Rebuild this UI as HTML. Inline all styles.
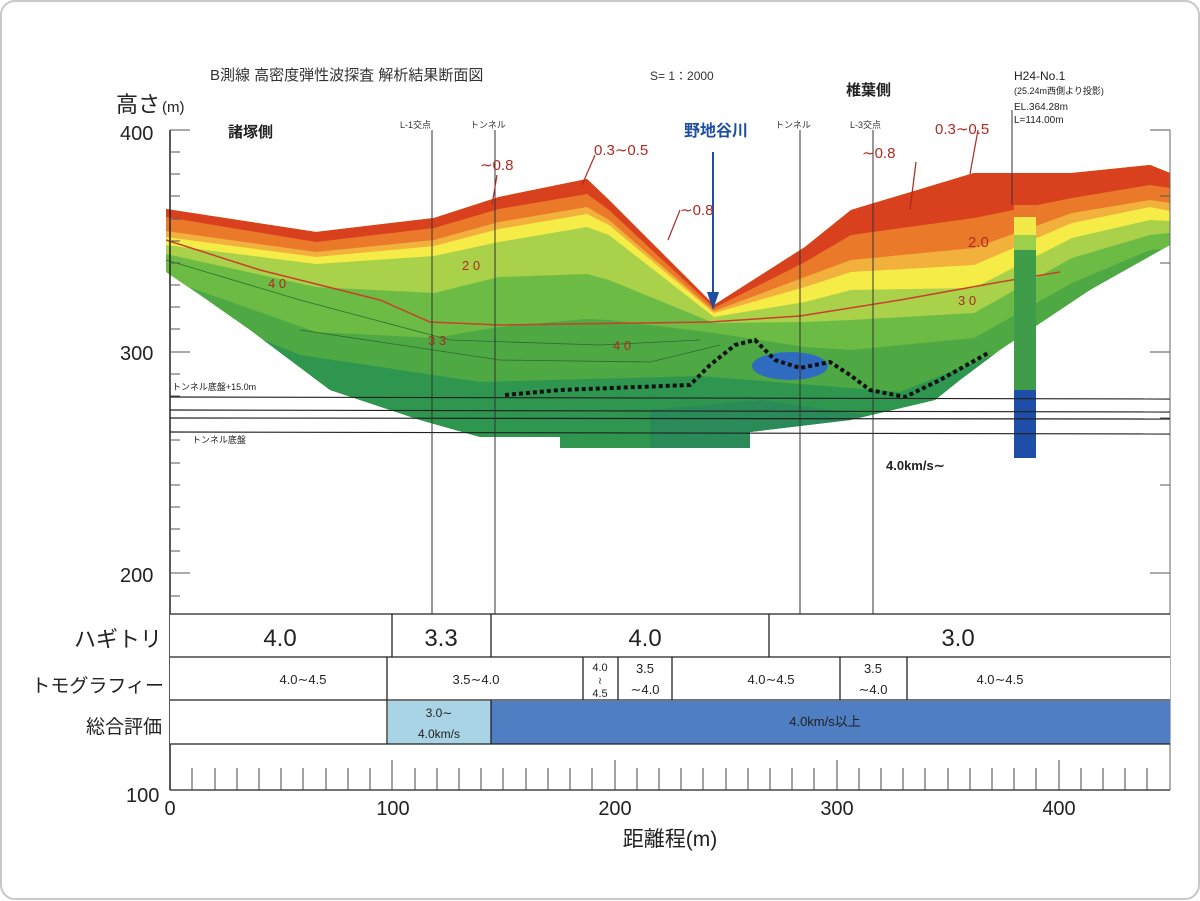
<!DOCTYPE html>
<html><head><meta charset="utf-8"><style>
html,body{margin:0;padding:0;background:#fff;}
svg{display:block;}
text{font-family:"Liberation Sans","Noto Sans CJK JP",sans-serif;}
</style></head><body>
<svg width="1200" height="901" viewBox="0 0 1200 901" xmlns="http://www.w3.org/2000/svg">
<rect x="1" y="1" width="1198" height="898" rx="14" fill="#fff" stroke="#c8c8c8" stroke-width="2"/>
<defs>
<clipPath id="sec"><polygon points="166,209 316,232 434,218 499,197 587,179 609,200 714,305 805,247 851,210 974,173 1072,173 1150,165 1170,173 1170,245 1090,290 1000,350 960,380 935,400 850,420 750,432 750,448 560,448 560,437 480,437 420,420 330,390 250,330 200,295 166,272"/></clipPath>
</defs>
<g clip-path="url(#sec)">
<rect x="160" y="150" width="1020" height="310" fill="#4ea843"/>
<polygon points="166,300 300,355 480,382 700,376 900,392 1000,352 1170,300 1170,460 166,460" fill="#2f9650"/>
<polygon points="650,410 760,400 900,420 900,460 650,460" fill="#2a8a58"/>
<polygon points="166,0 1170,0 1170,248 1150,250 1072,283 974,338 851,350 805,347 714,333 609,320 587,319 499,327 434,338 316,332 166,279" fill="#6cbb45"/>
<polygon points="166,0 1170,0 1170,233 1150,235 1072,258 974,313 851,320 805,322 714,323 609,280 587,274 499,277 434,293 316,287 166,254" fill="#a9d14a"/>
<polygon points="166,0 1170,0 1170,221 1150,220 1072,238 974,288 851,290 805,302 714,317 609,235 587,227 499,242 434,256 316,264 166,245" fill="#f5ec48"/>
<polygon points="166,0 1170,0 1170,211 1150,207 1072,223 974,265 851,272 805,287 714,313 609,225 587,214 499,229 434,246 316,257 166,237" fill="#f2b03c"/>
<polygon points="166,0 1170,0 1170,203 1150,200 1072,213 974,248 851,260 805,277 714,311 609,220 587,207 499,222 434,240 316,252 166,231" fill="#ea7a2a"/>
<polygon points="166,0 1170,0 1170,188 1150,185 1072,198 974,218 851,235 805,262 714,308 609,210 587,194 499,209 434,228 316,242 166,217" fill="#d8401e"/>
<ellipse cx="790" cy="366" rx="38" ry="14" fill="#2f6cc0"/>
<polyline points="166,240 260,270 380,300 430,322 500,325 710,322 800,316 900,300 1000,282 1060,272" fill="none" stroke="#c8402a" stroke-width="1.5"/>
<polyline points="166,260 300,300 450,340 600,345 700,340" fill="none" stroke="#2c6a30" stroke-width="0.8"/>
<polyline points="300,330 500,360 650,362 720,345" fill="none" stroke="#2c6a30" stroke-width="0.8"/>
</g>
<polyline points="505,395 560,390 690,385 710,365 735,345 755,340 775,360 800,368 830,362 850,375 870,390 905,397 940,380 990,352" fill="none" stroke="#111" stroke-width="4" stroke-dasharray="4,3"/>
<rect x="1014" y="205" width="22" height="12" fill="#e8782a"/>
<rect x="1014" y="217" width="22" height="18" fill="#f1ea4a"/>
<rect x="1014" y="235" width="22" height="15" fill="#9cd04a"/>
<rect x="1014" y="250" width="22" height="140" fill="#3f9c48"/>
<rect x="1014" y="390" width="22" height="68" fill="#1f4ea8"/>
<line x1="170" y1="130" x2="170" y2="790" stroke="#222" stroke-width="1.5"/>
<line x1="1170" y1="130" x2="1170" y2="790" stroke="#666" stroke-width="1"/>
<g stroke="#555" stroke-width="1">
<line x1="170" y1="130" x2="190" y2="130"/><line x1="170" y1="352" x2="190" y2="352"/><line x1="170" y1="573" x2="190" y2="573"/>
<line x1="170" y1="152" x2="180" y2="152"/><line x1="170" y1="174" x2="180" y2="174"/><line x1="170" y1="196" x2="180" y2="196"/><line x1="170" y1="219" x2="180" y2="219"/><line x1="170" y1="241" x2="180" y2="241"/><line x1="170" y1="263" x2="180" y2="263"/><line x1="170" y1="285" x2="180" y2="285"/><line x1="170" y1="307" x2="180" y2="307"/><line x1="170" y1="329" x2="180" y2="329"/>
<line x1="170" y1="374" x2="180" y2="374"/><line x1="170" y1="396" x2="180" y2="396"/><line x1="170" y1="418" x2="180" y2="418"/><line x1="170" y1="440" x2="180" y2="440"/><line x1="170" y1="463" x2="180" y2="463"/><line x1="170" y1="485" x2="180" y2="485"/><line x1="170" y1="507" x2="180" y2="507"/><line x1="170" y1="529" x2="180" y2="529"/><line x1="170" y1="551" x2="180" y2="551"/><line x1="170" y1="596" x2="180" y2="596"/>
<line x1="1150" y1="130" x2="1170" y2="130"/><line x1="1150" y1="352" x2="1170" y2="352"/><line x1="1150" y1="573" x2="1170" y2="573"/><line x1="1160" y1="196" x2="1170" y2="196"/><line x1="1160" y1="263" x2="1170" y2="263"/><line x1="1160" y1="418" x2="1170" y2="418"/><line x1="1160" y1="485" x2="1170" y2="485"/>
</g>
<g stroke="#222" stroke-width="1.2">
<line x1="170" y1="397" x2="1170" y2="399"/><line x1="170" y1="410" x2="1170" y2="412"/><line x1="170" y1="418" x2="1170" y2="419"/><line x1="170" y1="432" x2="1170" y2="434"/>
</g>
<g stroke="#333" stroke-width="1">
<line x1="432" y1="130" x2="432" y2="614"/><line x1="495" y1="130" x2="495" y2="614"/><line x1="800" y1="130" x2="800" y2="614"/><line x1="873" y1="130" x2="873" y2="614"/><line x1="1012" y1="110" x2="1012" y2="205"/>
</g>
<line x1="713" y1="152" x2="713" y2="305" stroke="#1d4ea0" stroke-width="2"/>
<polygon points="707,292 719,292 713,310" fill="#1d4ea0"/>
<g stroke="#b02a20" stroke-width="1.2" fill="none">
<line x1="497" y1="175" x2="492" y2="205"/><line x1="595" y1="155" x2="582" y2="185"/><line x1="680" y1="210" x2="668" y2="240"/><line x1="916" y1="162" x2="910" y2="210"/><line x1="978" y1="130" x2="970" y2="174"/>
</g>
<text x="210" y="80" font-size="15" fill="#333">B測線 高密度弾性波探査 解析結果断面図</text>
<text x="650" y="80" font-size="12" fill="#333">S= 1：2000</text>
<text x="116" y="112" font-size="22" fill="#222">高さ</text><text x="162" y="112" font-size="15" fill="#222">(m)</text>
<text x="120" y="140" font-size="20" fill="#222">400</text>
<text x="120" y="360" font-size="20" fill="#222">300</text>
<text x="120" y="582" font-size="20" fill="#222">200</text>
<text x="126" y="802" font-size="20" fill="#222">100</text>
<text x="228" y="137" font-size="15" font-weight="bold" fill="#222">諸塚側</text>
<text x="846" y="95" font-size="15" font-weight="bold" fill="#222">椎葉側</text>
<text x="400" y="128" font-size="9" fill="#333">L-1交点</text>
<text x="470" y="128" font-size="9" fill="#333">トンネル</text>
<text x="775" y="128" font-size="9" fill="#333">トンネル</text>
<text x="850" y="128" font-size="9" fill="#333">L-3交点</text>
<text x="684" y="136" font-size="16" font-weight="bold" fill="#1d4ea0">野地谷川</text>
<text x="1014" y="80" font-size="12" fill="#222">H24-No.1</text>
<text x="1014" y="94" font-size="9" fill="#222">(25.24m西側より投影)</text>
<text x="1014" y="110" font-size="10" fill="#222">EL.364.28m</text>
<text x="1014" y="123" font-size="10" fill="#222">L=114.00m</text>
<g fill="#b02a20" font-size="15">
<text x="594" y="155">0.3∼0.5</text><text x="480" y="170">∼0.8</text><text x="680" y="215">∼0.8</text><text x="862" y="158">∼0.8</text><text x="935" y="134">0.3∼0.5</text>
<text x="462" y="270" font-size="13">2 0</text><text x="968" y="247">2.0</text><text x="268" y="288" font-size="13">4 0</text><text x="958" y="305" font-size="13">3 0</text><text x="428" y="345" font-size="13">3 3</text><text x="613" y="350" font-size="13">4 0</text>
</g>
<text x="172" y="390" font-size="9" fill="#222">トンネル底盤+15.0m</text>
<text x="192" y="443" font-size="9" fill="#222">トンネル底盤</text>
<text x="886" y="470" font-size="13" font-weight="bold" fill="#222">4.0km/s∼</text>
<rect x="170" y="614" width="1000" height="130" fill="#fff"/>
<rect x="388" y="701" width="103" height="43" fill="#a8d4e6"/>
<rect x="491" y="701" width="679" height="43" fill="#4f7fc2"/>
<g stroke="#222" stroke-width="1.3" fill="none">
<line x1="170" y1="614" x2="1170" y2="614"/><line x1="170" y1="657" x2="1170" y2="657"/><line x1="170" y1="700" x2="1170" y2="700"/><line x1="170" y1="744" x2="1170" y2="744"/>
<line x1="392" y1="614" x2="392" y2="657"/><line x1="491" y1="614" x2="491" y2="657"/><line x1="769" y1="614" x2="769" y2="657"/>
<line x1="387" y1="657" x2="387" y2="744"/><line x1="583" y1="657" x2="583" y2="700"/><line x1="618" y1="657" x2="618" y2="700"/><line x1="672" y1="657" x2="672" y2="700"/><line x1="840" y1="657" x2="840" y2="700"/><line x1="907" y1="657" x2="907" y2="700"/><line x1="491" y1="700" x2="491" y2="744"/>
<line x1="170" y1="790" x2="1170" y2="790"/>
</g>
<g stroke="#444" stroke-width="1">
<line x1="192" y1="768" x2="192" y2="790"/><line x1="215" y1="768" x2="215" y2="790"/><line x1="237" y1="768" x2="237" y2="790"/><line x1="259" y1="768" x2="259" y2="790"/><line x1="281" y1="768" x2="281" y2="790"/><line x1="303" y1="768" x2="303" y2="790"/><line x1="326" y1="768" x2="326" y2="790"/><line x1="348" y1="768" x2="348" y2="790"/><line x1="370" y1="768" x2="370" y2="790"/><line x1="392" y1="760" x2="392" y2="790"/><line x1="415" y1="768" x2="415" y2="790"/><line x1="437" y1="768" x2="437" y2="790"/><line x1="459" y1="768" x2="459" y2="790"/><line x1="481" y1="768" x2="481" y2="790"/><line x1="503" y1="768" x2="503" y2="790"/><line x1="526" y1="768" x2="526" y2="790"/><line x1="548" y1="768" x2="548" y2="790"/><line x1="570" y1="768" x2="570" y2="790"/><line x1="592" y1="768" x2="592" y2="790"/><line x1="615" y1="760" x2="615" y2="790"/><line x1="637" y1="768" x2="637" y2="790"/><line x1="659" y1="768" x2="659" y2="790"/><line x1="681" y1="768" x2="681" y2="790"/><line x1="703" y1="768" x2="703" y2="790"/><line x1="726" y1="768" x2="726" y2="790"/><line x1="748" y1="768" x2="748" y2="790"/><line x1="770" y1="768" x2="770" y2="790"/><line x1="792" y1="768" x2="792" y2="790"/><line x1="814" y1="768" x2="814" y2="790"/><line x1="837" y1="760" x2="837" y2="790"/><line x1="859" y1="768" x2="859" y2="790"/><line x1="881" y1="768" x2="881" y2="790"/><line x1="903" y1="768" x2="903" y2="790"/><line x1="925" y1="768" x2="925" y2="790"/><line x1="948" y1="768" x2="948" y2="790"/><line x1="970" y1="768" x2="970" y2="790"/><line x1="992" y1="768" x2="992" y2="790"/><line x1="1014" y1="768" x2="1014" y2="790"/><line x1="1036" y1="768" x2="1036" y2="790"/><line x1="1059" y1="760" x2="1059" y2="790"/><line x1="1081" y1="768" x2="1081" y2="790"/><line x1="1103" y1="768" x2="1103" y2="790"/><line x1="1125" y1="768" x2="1125" y2="790"/><line x1="1147" y1="768" x2="1147" y2="790"/>
</g>
<g fill="#222" text-anchor="middle">
<text x="280" y="646" font-size="24">4.0</text><text x="441" y="646" font-size="24">3.3</text><text x="645" y="646" font-size="24">4.0</text><text x="958" y="646" font-size="24">3.0</text>
<text x="303" y="684" font-size="13">4.0∼4.5</text><text x="476" y="684" font-size="13">3.5∼4.0</text><text x="600" y="671" font-size="11">4.0</text><text x="600" y="684" font-size="10">≀</text><text x="600" y="697" font-size="11">4.5</text><text x="645" y="673" font-size="13">3.5</text><text x="645" y="694" font-size="13">∼4.0</text><text x="771" y="684" font-size="13">4.0∼4.5</text><text x="873" y="673" font-size="13">3.5</text><text x="873" y="694" font-size="13">∼4.0</text><text x="1000" y="684" font-size="13">4.0∼4.5</text>
<text x="439" y="717" font-size="12">3.0∼</text><text x="439" y="738" font-size="12">4.0km/s</text><text x="825" y="726" font-size="13">4.0km/s以上</text>
<text x="170" y="815" font-size="20">0</text><text x="393" y="815" font-size="20">100</text><text x="615" y="815" font-size="20">200</text><text x="837" y="815" font-size="20">300</text><text x="1059" y="815" font-size="20">400</text>
<text x="670" y="846" font-size="21">距離程(m)</text>
</g>
<g fill="#222" text-anchor="end">
<text x="162" y="647" font-size="22">ハギトリ</text>
<text x="164" y="692" font-size="19">トモグラフィー</text>
<text x="162" y="733" font-size="19">総合評価</text>
</g>
</svg>
</body></html>
